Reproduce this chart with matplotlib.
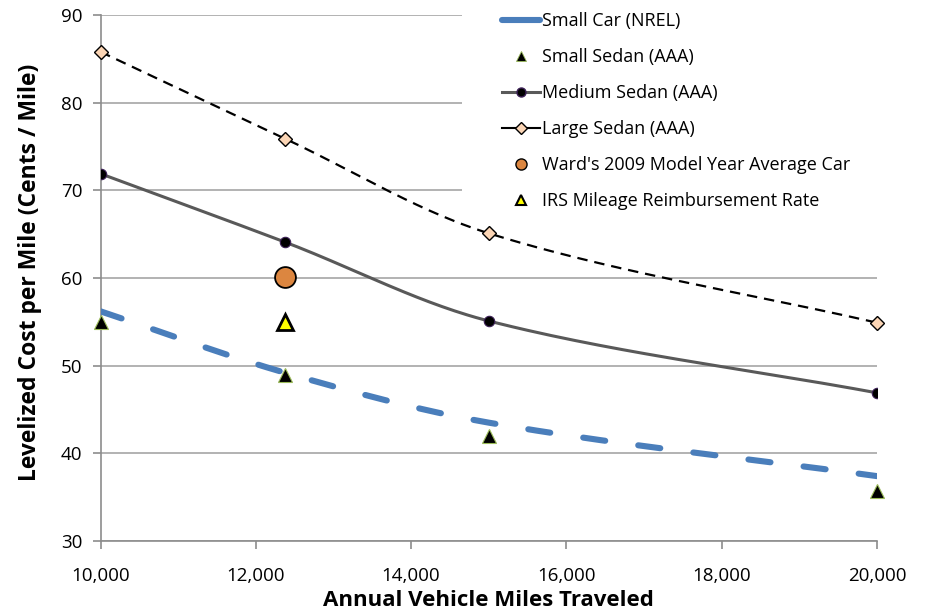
import matplotlib
matplotlib.use("Agg")
import matplotlib.pyplot as plt
from matplotlib.lines import Line2D
from matplotlib.patches import Rectangle
from matplotlib.ticker import FuncFormatter
import numpy as np

# data
miles = [10000, 12375, 15000, 20000]
small_car_nrel = [56.2, 49.2, 43.5, 37.4]
small_sedan_aaa = [55.0, 48.9, 42.0, 35.7]
medium_sedan_aaa = [71.9, 64.1, 55.1, 46.9]
large_sedan_aaa = [85.8, 75.9, 65.1, 54.9]
wards_miles = [12375]
wards_cost = [60.1]
irs_miles = [12375]
irs_cost = [55.0]

labels = [
    "Small Car (NREL)",
    "Small Sedan (AAA)",
    "Medium Sedan (AAA)",
    "Large Sedan (AAA)",
    "Ward's 2009 Model Year Average Car",
    "IRS Mileage Reimbursement Rate",
]

XMIN, XMAX, YMIN, YMAX = 10000, 20000, 30, 90
W_PX, H_PX = 776, 526


def smooth(xs, ys, n=50):
    # smoothed line like a spreadsheet does it: bezier segments, tangents scaled by chord length
    u = (np.array(xs, float) - XMIN) / (XMAX - XMIN) * W_PX
    v = (np.array(ys, float) - YMIN) / (YMAX - YMIN) * H_PX
    p = np.column_stack([u, v])
    k = len(p)
    d = np.linalg.norm(np.diff(p, axis=0), axis=1)
    out = []
    t = np.linspace(0, 1, n)[:, None]
    for i in range(k - 1):
        p0, p3 = p[i], p[i + 1]
        if i == 0:
            c1 = p0 + (p3 - p0) / 3
        else:
            c1 = p0 + (p[i + 1] - p[i - 1]) * d[i] / (d[i - 1] + d[i]) / 3
        if i == k - 2:
            c2 = p3 - (p3 - p0) / 3
        else:
            c2 = p3 - (p[i + 2] - p[i]) * d[i] / (d[i] + d[i + 1]) / 3
        seg = ((1 - t) ** 3) * p0 + 3 * ((1 - t) ** 2) * t * c1 + 3 * (1 - t) * t ** 2 * c2 + t ** 3 * p3
        out.append(seg if i == 0 else seg[1:])
    out = np.vstack(out)
    return out[:, 0] / W_PX * (XMAX - XMIN) + XMIN, out[:, 1] / H_PX * (YMAX - YMIN) + YMIN


plt.rcParams['font.family'] = ['Open Sans', 'DejaVu Sans']
plt.rcParams['lines.scale_dashes'] = False

fig = plt.figure(figsize=(9.27, 6.13), dpi=100)
ax = fig.add_axes([100.5 / 927, 1 - 541 / 613, 776.5 / 927, 526 / 613])

grid_col = "#a6a6a6"
ax.set_xlim(XMIN, XMAX)
ax.set_ylim(YMIN, YMAX)
ax.set_yticks(range(30, 91, 10))
ax.set_xticks(range(10000, 20001, 2000))
ax.xaxis.set_major_formatter(FuncFormatter(lambda v, p: f"{int(v):,}"))
ax.yaxis.grid(True, color=grid_col, linewidth=1.2)
ax.set_axisbelow(True)
for s in ["top", "right"]:
    ax.spines[s].set_visible(False)
for s in ["left", "bottom"]:
    ax.spines[s].set_color("#8c8c8c")
    ax.spines[s].set_linewidth(1.2)
ax.tick_params(axis="both", colors="#8c8c8c", length=6, width=1.2, labelcolor="black", labelsize=13.5)
ax.tick_params(axis="x", pad=13)
ax.tick_params(axis="y", pad=7)

# white box behind the legend, hides the grid there
ax.add_patch(Rectangle((462 / 927, 1 - 222 / 613), 465 / 927, 222 / 613,
                       transform=fig.transFigure, facecolor="white",
                       edgecolor="none", zorder=1, clip_on=False))

# small car NREL
sx, sy = smooth(miles, small_car_nrel)
ax.plot(sx, sy, color="#4a7ebb", linewidth=4.4, dashes=(16, 24),
        dash_capstyle="round", zorder=3)

# medium sedan
mx, my = smooth(miles, medium_sedan_aaa)
ax.plot(mx, my, color="#595959", linewidth=2.2, zorder=3)
ax.plot(miles, medium_sedan_aaa, linestyle="none", marker="o", markersize=7.5,
        markerfacecolor="black", markeredgecolor="#3b1f55", markeredgewidth=0.8, zorder=4)

# large sedan
lx, ly = smooth(miles, large_sedan_aaa)
ax.plot(lx, ly, color="black", linewidth=1.6, dashes=(7.5, 5), zorder=3)
ax.plot(miles, large_sedan_aaa, linestyle="none", marker="D", markersize=7.5,
        markerfacecolor="#fbd5b5", markeredgecolor="black", markeredgewidth=1.0, zorder=4,
        clip_on=False)

# small sedan
ax.plot(miles, small_sedan_aaa, linestyle="none", marker="^", markersize=10.5,
        markerfacecolor="black", markeredgecolor="#9bbb59", markeredgewidth=0.8, zorder=5,
        clip_on=False)

# ward's
ax.plot(wards_miles, wards_cost, linestyle="none", marker="o", markersize=15,
        markerfacecolor="#dc8640", markeredgecolor="black", markeredgewidth=1.3, zorder=5)

# IRS
ax.plot(irs_miles, irs_cost, linestyle="none", marker="^", markersize=11,
        markerfacecolor="#ffff00", markeredgecolor="black", markeredgewidth=2.0, zorder=5)

ax.set_xlabel("Annual Vehicle Miles Traveled", fontsize=16, fontweight="bold")
ax.xaxis.label.set_va("center")
ax.xaxis.set_label_coords(0.5, (541 - 601) / 526)
ax.set_ylabel("Levelized Cost per Mile (Cents / Mile)", fontsize=16.5, fontweight="bold")
ax.yaxis.label.set_va("center")
ax.yaxis.set_label_coords((30 - 100.5) / 776.5, 0.51)

handles = [
    Line2D([], [], color="#4a7ebb", linewidth=4.4, solid_capstyle="round"),
    Line2D([], [], linestyle="none", marker="^", markersize=7, markerfacecolor="black",
           markeredgecolor="#9bbb59", markeredgewidth=0.6),
    Line2D([], [], color="#595959", linewidth=2.2, marker="o", markersize=6.5,
           markerfacecolor="black", markeredgecolor="#3b1f55"),
    Line2D([], [], color="black", linewidth=1.5, marker="D", markersize=6,
           markerfacecolor="#fbd5b5", markeredgecolor="black"),
    Line2D([], [], linestyle="none", marker="o", markersize=8, markerfacecolor="#dc8640",
           markeredgecolor="black"),
    Line2D([], [], linestyle="none", marker="^", markersize=7.5, markerfacecolor="#ffff00",
           markeredgecolor="black", markeredgewidth=1.5),
]
leg = ax.legend(handles, labels, loc="upper left", bbox_to_anchor=(502 / 927, 1 - 12 / 613),
                bbox_transform=fig.transFigure, fontsize=13, frameon=False,
                labelspacing=1.0, handlelength=2.1, handletextpad=0.1, borderpad=0,
                borderaxespad=0)
leg.set_zorder(2.5)

fig.savefig("out.png", dpi=100)
